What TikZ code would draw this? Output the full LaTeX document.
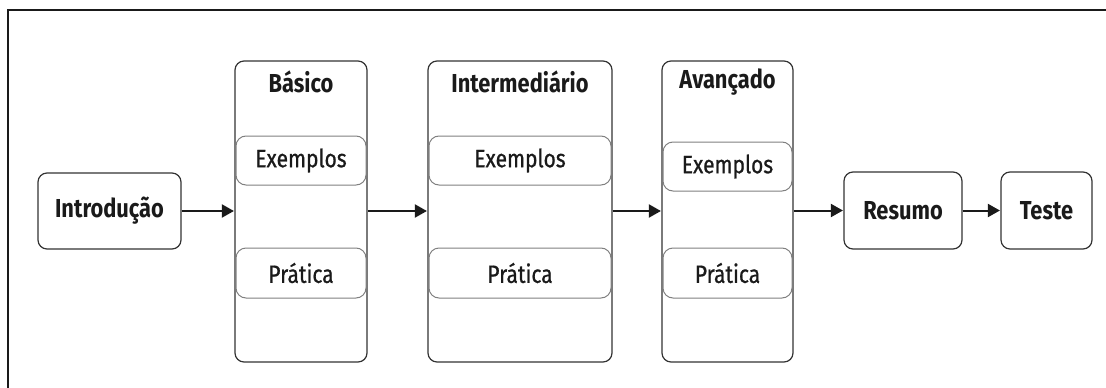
\documentclass[tikz,border=0pt]{standalone}
\usepackage{fontspec}
\setmainfont{Fira Sans}[FakeStretch=0.84]
\usetikzlibrary{arrows.meta}
\definecolor{edge}{HTML}{333333}
\definecolor{subedge}{HTML}{808080}
\definecolor{ink}{HTML}{1A1A1A}
\tikzset{
  mainbox/.style={draw=edge, line width=1.2pt, rounded corners=9pt, inner sep=0pt, text=ink, font=\fontsize{26}{28}\selectfont\bfseries},
  column/.style={draw=edge, line width=1.2pt, rounded corners=9pt, inner sep=0pt},
  subbox/.style={draw=subedge, line width=1pt, rounded corners=10pt, inner sep=0pt, text=ink, font=\fontsize{25}{27}\selectfont\addfontfeature{FakeBold=0.8}},
  title/.style={inner sep=0pt, text=ink, font=\fontsize{26}{28}\selectfont\bfseries},
  flow/.style={line width=2pt, draw=ink, -{Triangle[length=12pt,width=13pt]}, shorten >=0.5pt},
}
\begin{document}
\begin{tikzpicture}[x=1pt,y=-1pt]
\useasboundingbox (0,0) rectangle (1106,388);
% outer frame (cropped: only top and left edges visible)
\draw[line width=2pt, draw=ink] (1106,10) -- (8,10) -- (8,388);

\node[mainbox, minimum width=143pt, minimum height=76pt] (intro) at (109.5,211) {Introdução};

\node[column, minimum width=132pt, minimum height=301pt] (bas) at (301,211.5) {};
\node[title] (bast) at (301,82) {Básico};
\node[subbox, minimum width=130pt, minimum height=49pt] (basex) at (301,160.5) {Exemplos};
\node[subbox, minimum width=130pt, minimum height=50pt] (basp) at (301,273) {Prática};

\node[column, minimum width=184pt, minimum height=301pt] (int) at (520,211.5) {};
\node[title] (intt) at (520,82) {Intermediário};
\node[subbox, minimum width=182pt, minimum height=49pt] (intex) at (520,160.5) {Exemplos};
\node[subbox, minimum width=182pt, minimum height=50pt] (intp) at (520,273) {Prática};

\node[column, minimum width=131pt, minimum height=301pt] (ava) at (727.5,211.5) {};
\node[title] (avat) at (727.5,82) {Avançado};
\node[subbox, minimum width=129pt, minimum height=49pt] (avaex) at (727.5,166.5) {Exemplos};
\node[subbox, minimum width=129pt, minimum height=50pt] (avap) at (727.5,273) {Prática};

\node[mainbox, minimum width=118pt, minimum height=77pt] (res) at (903,210.5) {Resumo};
\node[mainbox, minimum width=91pt, minimum height=77pt] (tes) at (1046.5,210.5) {Teste};

\draw[flow] (intro.east) -- (intro.east -| bas.west);
\draw[flow] (bas.east |- intro.east) -- (intro.east -| int.west);
\draw[flow] (int.east |- intro.east) -- (intro.east -| ava.west);
\draw[flow] (ava.east |- res.west) -- (res.west);
\draw[flow] (res.east) -- (tes.west);
\end{tikzpicture}
\end{document}
